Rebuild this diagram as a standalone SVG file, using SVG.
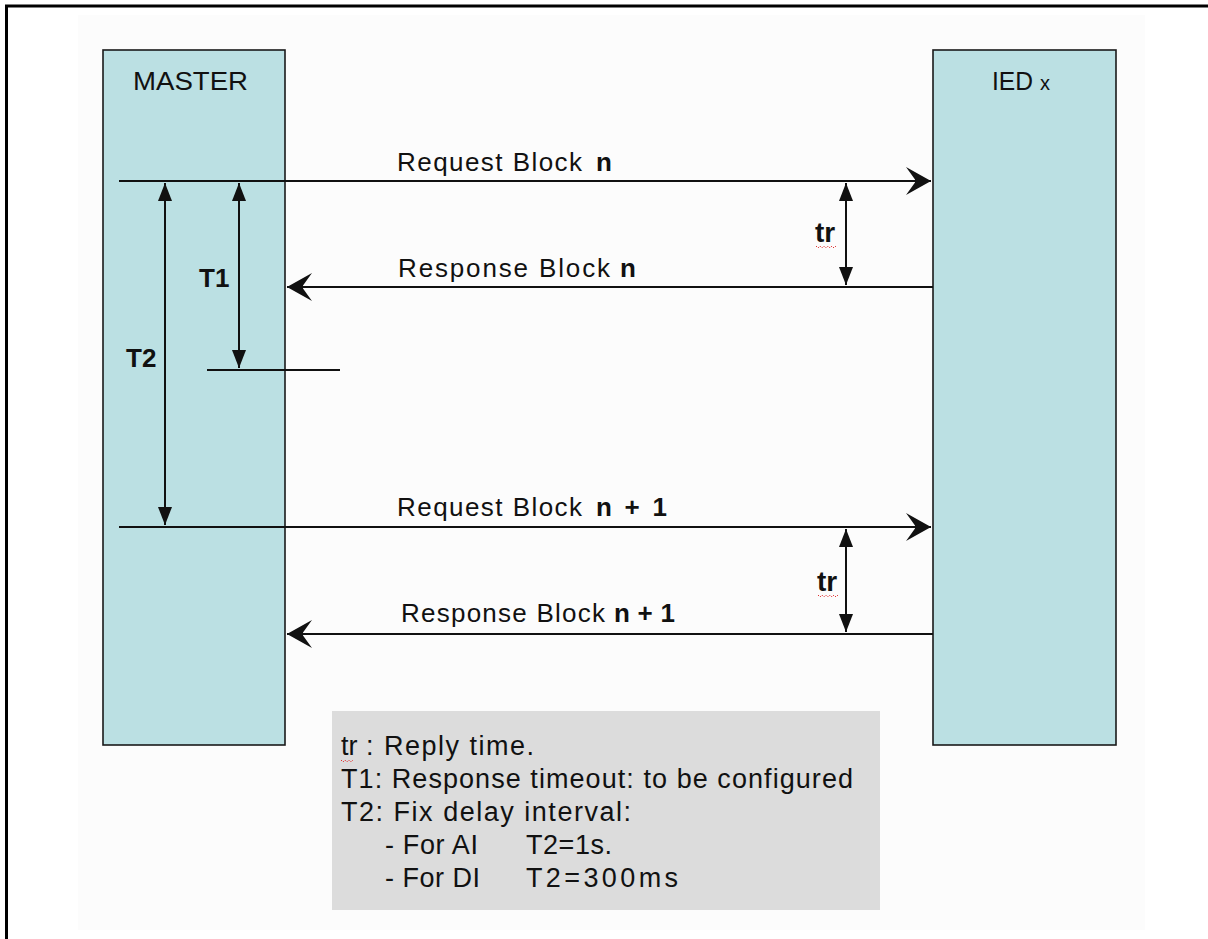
<svg xmlns="http://www.w3.org/2000/svg" width="1208" height="939" viewBox="0 0 1208 939">
<style>
.box{fill:#bbe0e3;stroke:#1a1a1a;stroke-width:1.6}
.ln{stroke:#111;stroke-width:2;fill:none}
.t{font-family:"Liberation Sans",Arial,sans-serif;fill:#111}
.b{font-family:"Liberation Sans",Arial,sans-serif;font-weight:bold;fill:#111}
.sq{stroke:#e03030;stroke-width:1;fill:none;stroke-dasharray:1.5 1.5}
</style>
<defs>
<marker id="barb" viewBox="-26 -15 27 30" refX="0" refY="0" markerWidth="27" markerHeight="30" markerUnits="userSpaceOnUse" orient="auto">
<path d="M0,0 L-25,-14 L-16,-1.5 L-16,1.5 L-25,14 Z" fill="#111"/>
</marker>
<marker id="tri" viewBox="-19 -8 20 16" refX="0" refY="0" markerWidth="20" markerHeight="16" markerUnits="userSpaceOnUse" orient="auto-start-reverse">
<path d="M0,0 L-18,-7 L-18,7 Z" fill="#111"/>
</marker>
</defs>
<rect x="0" y="0" width="1208" height="939" fill="#ffffff"/>
<rect x="78" y="15" width="1067" height="915" fill="#fcfcfc"/>
<path d="M6.5,939 L6.5,6 L1208,6" stroke="#000" stroke-width="3" fill="none"/>

<g id="master">
<rect class="box" x="103" y="50" width="182" height="695"/>
<text class="t" x="133" y="90" font-size="26" textLength="115" lengthAdjust="spacingAndGlyphs">MASTER</text>
</g>
<g id="ied">
<rect class="box" x="933" y="50" width="183" height="695"/>
<text class="t" x="992" y="90" font-size="26" textLength="41" lengthAdjust="spacingAndGlyphs">IED</text>
<text class="t" x="1040" y="90" font-size="20">x</text>
</g>

<g id="legend">
<rect x="332" y="711" width="548" height="199" fill="#dcdcdc"/>
<text class="t" x="341" y="755" font-size="27">tr</text>
<text class="t" x="366" y="755" font-size="27" textLength="168" lengthAdjust="spacing">: Reply time.</text>
<path class="sq" d="M341,760 l2,2 l2,-2 l2,2 l2,-2 l2,2 l2,-2"/>
<text class="t" x="341" y="788" font-size="27" textLength="512" lengthAdjust="spacing">T1: Response timeout: to be configured</text>
<text class="t" x="341" y="821" font-size="27" textLength="290" lengthAdjust="spacing">T2: Fix delay interval:</text>
<text class="t" x="385" y="854" font-size="27" textLength="93" lengthAdjust="spacing">- For AI</text>
<text class="t" x="526" y="854" font-size="27" textLength="86" lengthAdjust="spacing">T2=1s.</text>
<text class="t" x="385" y="887" font-size="27" textLength="95" lengthAdjust="spacing">- For DI</text>
<text class="t" x="526" y="887" font-size="27" textLength="152" lengthAdjust="spacing">T2=300ms</text>
</g>

<g id="connectors">
<line class="ln" x1="119" y1="181" x2="931" y2="181" marker-end="url(#barb)"/>
<line class="ln" x1="933" y1="287" x2="287" y2="287" marker-end="url(#barb)"/>
<line class="ln" x1="119" y1="527" x2="931" y2="527" marker-end="url(#barb)"/>
<line class="ln" x1="933" y1="634" x2="287" y2="634" marker-end="url(#barb)"/>
<line class="ln" x1="165" y1="183" x2="165" y2="525" marker-start="url(#tri)" marker-end="url(#tri)"/>
<line class="ln" x1="239" y1="183" x2="239" y2="368" marker-start="url(#tri)" marker-end="url(#tri)"/>
<line class="ln" x1="207" y1="370" x2="340" y2="370"/>
<line class="ln" x1="846" y1="183" x2="846" y2="285" marker-start="url(#tri)" marker-end="url(#tri)"/>
<line class="ln" x1="846" y1="529" x2="846" y2="632" marker-start="url(#tri)" marker-end="url(#tri)"/>
</g>

<g id="labels">
<text class="t" x="397" y="171" font-size="26" textLength="185" lengthAdjust="spacing">Request  Block</text>
<text class="b" x="596" y="171" font-size="26">n</text>
<text class="t" x="398" y="277" font-size="26" textLength="212" lengthAdjust="spacing">Response  Block</text>
<text class="b" x="620" y="277" font-size="26">n</text>
<text class="t" x="397" y="516" font-size="26" textLength="185" lengthAdjust="spacing">Request  Block</text>
<text class="b" x="596" y="516" font-size="26" textLength="71" lengthAdjust="spacing">n + 1</text>
<text class="t" x="401" y="622" font-size="26" textLength="204" lengthAdjust="spacing">Response Block</text>
<text class="b" x="614" y="622" font-size="26" textLength="61" lengthAdjust="spacing">n + 1</text>
<text class="b" x="199" y="287" font-size="26">T1</text>
<text class="b" x="126" y="367" font-size="26">T2</text>
<text class="b" x="815" y="242" font-size="28">tr</text>
<path class="sq" d="M816,246 l2,2 l2,-2 l2,2 l2,-2 l2,2 l2,-2 l2,2 l2,-2 l2,2 l2,-2"/>
<text class="b" x="817" y="591" font-size="28">tr</text>
<path class="sq" d="M818,595 l2,2 l2,-2 l2,2 l2,-2 l2,2 l2,-2 l2,2 l2,-2 l2,2 l2,-2"/>
</g>
</svg>
